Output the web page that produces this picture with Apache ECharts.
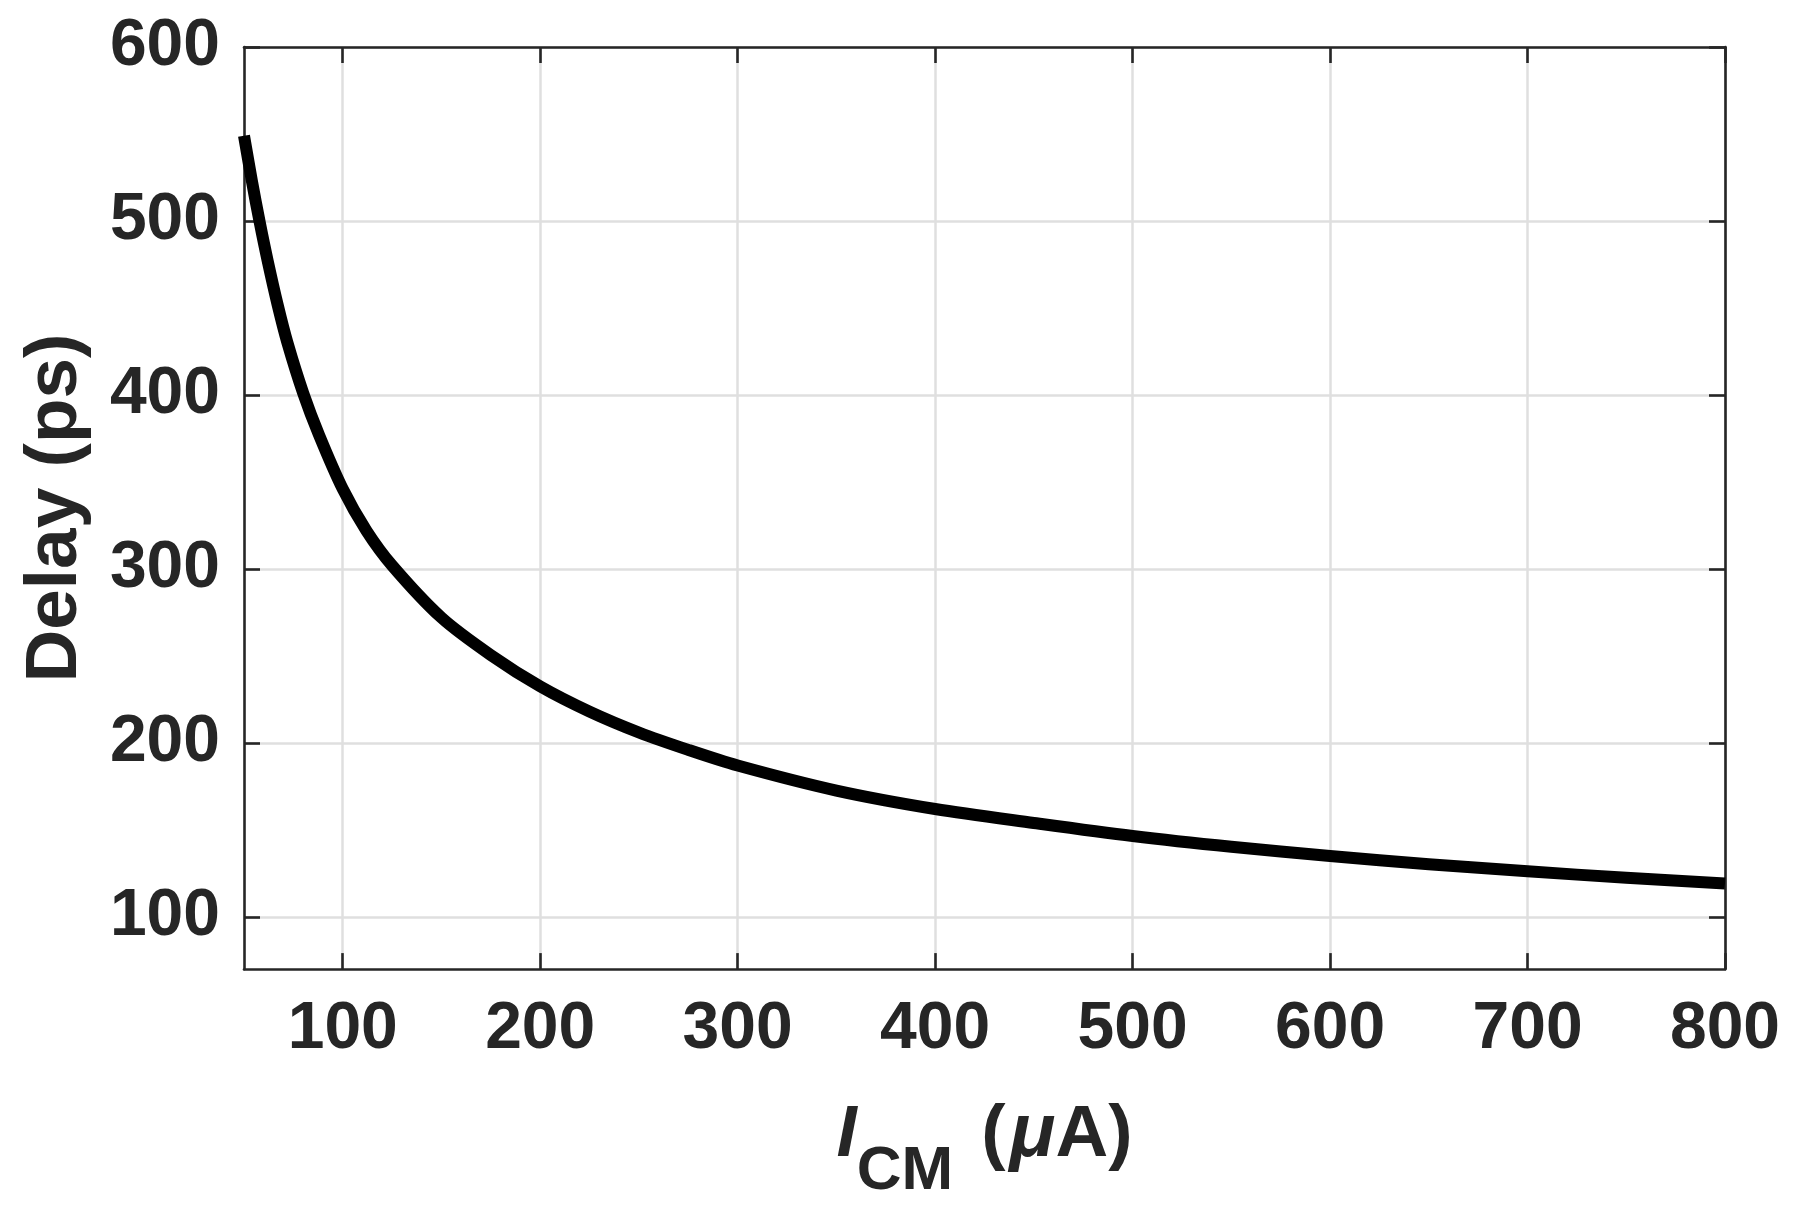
<!DOCTYPE html>
<html>
<head>
<meta charset="utf-8">
<script src="https://cdn.jsdelivr.net/npm/echarts@6/dist/echarts.min.js"></script>
<style>
html,body{margin:0;padding:0;background:#fff;}
#chart{width:1811px;height:1208px;}
</style>
</head>
<body>
<div id="chart"></div>
<script>
// I_CM (uA)
const currentUA = [50, 54, 58, 62, 67, 72, 80, 88, 100, 112, 125, 150, 175, 200, 225, 250, 275, 300, 350, 400, 450, 500, 550, 600, 650, 700, 750, 800];
// Delay (ps)
const delayPs = [549, 523, 499, 477, 452, 430, 401, 377, 346, 322, 302, 272, 250.5, 232.5, 218, 206, 196, 187, 172.6, 162, 154, 146.5, 140.3, 135, 130.3, 126.2, 122.5, 119.2];
const xTicks = [100, 200, 300, 400, 500, 600, 700, 800];
const yTicks = [100, 200, 300, 400, 500, 600];

const FONT = '"Liberation Sans", Arial, Helvetica, sans-serif';
const TXT = '#262626';
const AX = '#262626';
const GRID = '#dfdfdf';

const chart = echarts.init(document.getElementById('chart'), null, {renderer: 'canvas'});

const axisLine = {show: true, onZero: false, lineStyle: {color: AX, width: 2.6}};
const tickStyle = (vals) => ({show: true, inside: true, length: 16, customValues: vals, lineStyle: {color: AX, width: 2.6}});

const option = {
  backgroundColor: '#ffffff',
  animation: false,
  grid: {left: 244, right: 86, top: 47, bottom: 238, containLabel: false},
  xAxis: [
    {
      type: 'value', min: 50, max: 800, position: 'bottom',
      axisLine: axisLine,
      axisTick: tickStyle(xTicks),
      axisLabel: {customValues: xTicks, fontSize: 66, fontWeight: 'bold', fontFamily: FONT, color: TXT, margin: 28},
      splitLine: {show: true, lineStyle: {color: GRID, width: 2.5}},
      name: '{i|I}{sub|CM}{p|(}{mu|μ}{n|A)}',
      nameLocation: 'middle',
      nameGap: 76,
      nameTextStyle: {
        rich: {
          i: {fontSize: 73, fontWeight: 'bold', fontStyle: 'italic', fontFamily: FONT, color: TXT, lineHeight: 80},
          sub: {fontSize: 62, fontWeight: 'bold', fontFamily: FONT, color: TXT, lineHeight: 70, padding: [73, 0, 0, 0]},
          p: {fontSize: 73, fontWeight: 'bold', fontFamily: FONT, color: TXT, lineHeight: 80, padding: [0, 4, 0, 28]},
          n: {fontSize: 73, fontWeight: 'bold', fontFamily: FONT, color: TXT, lineHeight: 80},
          mu: {fontSize: 76, fontWeight: 'bold', fontStyle: 'italic', fontFamily: FONT, color: TXT, lineHeight: 80}
        }
      }
    },
    {
      type: 'value', min: 50, max: 800, position: 'top',
      axisLine: axisLine,
      axisTick: tickStyle(xTicks),
      axisLabel: {show: false},
      splitLine: {show: false}
    }
  ],
  yAxis: [
    {
      type: 'value', min: 70, max: 600, position: 'left',
      axisLine: axisLine,
      axisTick: tickStyle(yTicks),
      axisLabel: {customValues: yTicks, fontSize: 66, fontWeight: 'bold', fontFamily: FONT, color: TXT, margin: 24},
      splitLine: {show: true, lineStyle: {color: GRID, width: 2.5}},
      name: 'Delay (ps)',
      nameLocation: 'middle',
      nameGap: 148,
      nameTextStyle: {fontSize: 73, fontWeight: 'bold', fontFamily: FONT, color: TXT, lineHeight: 80}
    },
    {
      type: 'value', min: 70, max: 600, position: 'right',
      axisLine: axisLine,
      axisTick: tickStyle(yTicks),
      axisLabel: {show: false},
      splitLine: {show: false}
    }
  ],
  series: [
    {
      type: 'line',
      xAxisIndex: 0, yAxisIndex: 0,
      data: currentUA.map((x, i) => [x, delayPs[i]]),
      showSymbol: false,
      smooth: 0.3,
      clip: false,
      lineStyle: {color: '#000000', width: 12, cap: 'butt', join: 'round'},
      z: 5
    }
  ]
};
chart.setOption(option);
</script>
</body>
</html>
